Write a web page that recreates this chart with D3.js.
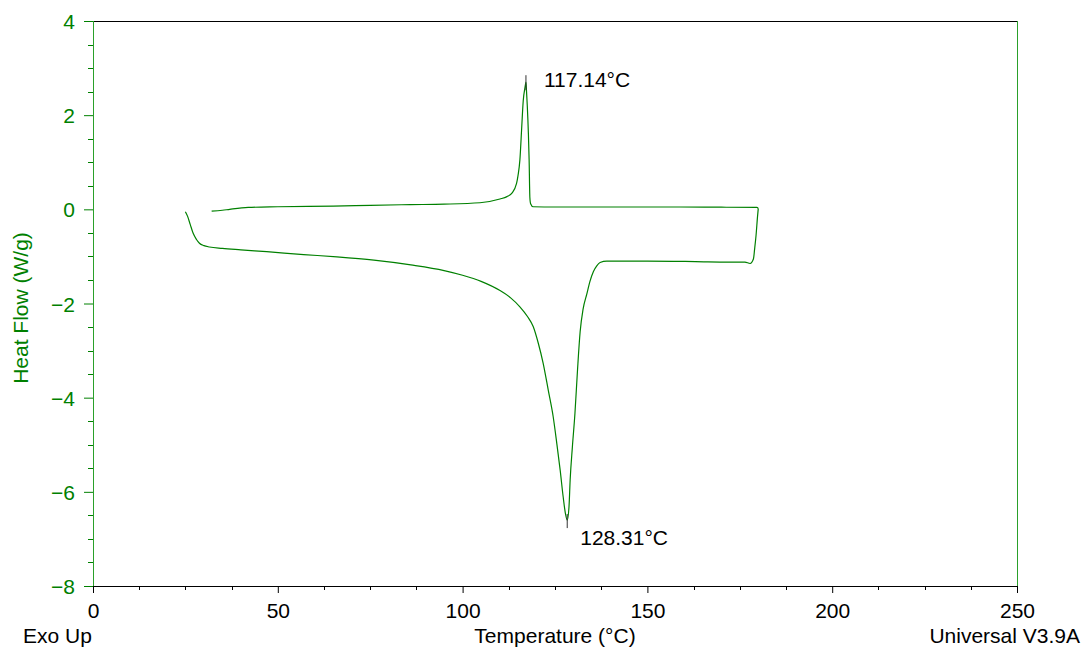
<!DOCTYPE html>
<html>
<head>
<meta charset="utf-8">
<script src="https://cdn.jsdelivr.net/npm/d3@7"></script>
<style>
  body { margin: 0; background: #fff; }
  svg text { font-family: "Liberation Sans", Arial, sans-serif; }
</style>
</head>
<body>
<svg id="chart" width="1083" height="651"></svg>
<script>
// DSC run: heating scan then cooling scan
const heatTemp = [25.0, 25.6, 26.3, 27.1, 28.0, 28.8, 30.0, 31.5, 35, 40, 47, 57, 66, 76, 86, 95, 100, 105, 110, 113,
  115.5, 117.5, 119.1, 120.5, 121.8, 123.2, 124.5, 125.5, 126.4, 127.2, 127.8, 128.31, 128.8, 129.1, 129.7, 130.4,
  131.1, 131.8, 132.6, 133.6, 134.5, 135.4, 136.3, 137.2, 139, 150, 163, 172, 176.4, 177.8, 178.7, 179.0, 179.4, 179.8, 180.0];
const heatFlow = [-0.05, -0.15, -0.32, -0.51, -0.64, -0.72, -0.77, -0.80, -0.83, -0.86, -0.90, -0.96, -1.01, -1.08, -1.18, -1.30, -1.40, -1.53, -1.72, -1.88,
  -2.07, -2.27, -2.49, -2.85, -3.27, -3.85, -4.40, -4.98, -5.54, -6.10, -6.45, -6.60, -6.30, -5.75, -5.05, -4.33,
  -3.40, -2.60, -2.12, -1.80, -1.52, -1.32, -1.20, -1.13, -1.10, -1.10, -1.11, -1.12, -1.12, -1.15, -1.05, -0.85, -0.55, -0.15, 0.02];

const coolTemp = [180.0, 179.6, 170, 158.8, 140, 125, 119.1, 118.4, 118.2, 118.0, 117.8, 117.5, 117.3, 117.14, 116.9, 116.4,
  116.0, 115.5, 115.0, 114.6, 113.3, 112, 110.1, 104.7, 95, 85.8, 75, 65, 50, 42, 37, 35, 32.1];
const coolFlow = [0.02, 0.04, 0.045, 0.05, 0.05, 0.05, 0.055, 0.12, 0.25, 1.05, 1.61, 2.2, 2.5, 2.70, 2.60, 2.30,
  1.75, 1.05, 0.72, 0.55, 0.34, 0.27, 0.22, 0.14, 0.11, 0.10, 0.085, 0.07, 0.055, 0.04, 0.0, -0.02, -0.04];

// peak annotations
const peakTemps = [117.14, 128.31];
const peakFlows = [2.70, -6.60];
const peakLabels = ["117.14°C", "128.31°C"];

const xMajor = [0, 50, 100, 150, 200, 250];
const yMajor = [-8, -6, -4, -2, 0, 2, 4];

const svg = d3.select("#chart");
const plotLeft = 93, plotRight = 1017, plotTop = 21, plotBottom = 586;
const green = "#008000";

const x = d3.scaleLinear().domain([0, 250]).range([plotLeft, plotRight]);
const y = d3.scaleLinear().domain([-8, 4]).range([plotBottom, plotTop]);

// minor ticks every 12.5 C and 0.5 W/g
const xMinor = d3.range(0, 250.01, 12.5).filter(function(d) { return xMajor.indexOf(d) < 0; });
const yMinor = d3.range(-8, 4.01, 0.5).filter(function(d) { return yMajor.indexOf(d) < 0; });

// x axis (black)
const xAxis = svg.append("g").attr("transform", "translate(0," + plotBottom + ")")
  .call(d3.axisBottom(x).tickValues(xMajor).tickSize(7).tickPadding(10).tickFormat(d3.format("d")));
xAxis.select(".domain").remove();
xAxis.selectAll("line").attr("stroke", "#000");
xAxis.selectAll("text").attr("fill", "#000").style("font-size", "21px").attr("dy", "0.71em");

svg.append("g").attr("transform", "translate(0," + plotBottom + ")")
  .selectAll("line").data(xMinor).enter().append("line")
  .attr("x1", function(d) { return Math.round(x(d)) + 0.5; })
  .attr("x2", function(d) { return Math.round(x(d)) + 0.5; })
  .attr("y1", 0).attr("y2", 4).attr("stroke", "#000");

// y axis (green)
const yAxis = svg.append("g").attr("transform", "translate(" + plotLeft + ",0)")
  .call(d3.axisLeft(y).tickValues(yMajor).tickSize(9).tickPadding(9).tickFormat(d3.format("d")));
yAxis.select(".domain").remove();
yAxis.selectAll("line").attr("stroke", green);
yAxis.selectAll("text").attr("fill", green).style("font-size", "21px").attr("dy", "0.36em");

svg.append("g").attr("transform", "translate(" + plotLeft + ",0)")
  .selectAll("line").data(yMinor).enter().append("line")
  .attr("y1", function(d) { return Math.round(y(d)) + 0.5; })
  .attr("y2", function(d) { return Math.round(y(d)) + 0.5; })
  .attr("x1", 0).attr("x2", -5).attr("stroke", green);

// frame: black top/bottom, green sides
svg.append("line").attr("x1", plotLeft).attr("x2", plotRight).attr("y1", plotTop + 0.5).attr("y2", plotTop + 0.5).attr("stroke", "#000");
svg.append("line").attr("x1", plotLeft).attr("x2", plotRight).attr("y1", plotBottom + 0.5).attr("y2", plotBottom + 0.5).attr("stroke", "#000");
svg.append("line").attr("x1", plotLeft + 0.5).attr("x2", plotLeft + 0.5).attr("y1", plotTop).attr("y2", plotBottom).attr("stroke", "#2aa02a");
svg.append("line").attr("x1", plotRight + 0.5).attr("x2", plotRight + 0.5).attr("y1", plotTop).attr("y2", plotBottom).attr("stroke", "#2aa02a");

// curve (temps are monotone within each scan)
const line = d3.line().curve(d3.curveMonotoneX)
  .x(function(d) { return x(d[0]); }).y(function(d) { return y(d[1]); });
const heatPts = heatTemp.map(function(t, i) { return [t, heatFlow[i]]; });
const coolPts = coolTemp.map(function(t, i) { return [t, coolFlow[i]]; });

svg.append("path").datum(heatPts).attr("d", line)
  .attr("fill", "none").attr("stroke", green).attr("stroke-width", 1.2);
svg.append("path").datum(coolPts).attr("d", line)
  .attr("fill", "none").attr("stroke", green).attr("stroke-width", 1.2);

// peak markers + labels
peakTemps.forEach(function(t, i) {
  const up = peakFlows[i] > 0;
  const py = y(peakFlows[i]);
  svg.append("line")
    .attr("x1", x(t)).attr("x2", x(t))
    .attr("y1", up ? py - 7 : py - 6).attr("y2", up ? py + 8 : py + 8)
    .attr("stroke", "#333").attr("stroke-width", 1);
  svg.append("text")
    .attr("x", up ? x(t) + 18 : x(t) + 13)
    .attr("y", up ? py + 5 : py + 25)
    .attr("fill", "#000").style("font-size", "21px")
    .text(peakLabels[i]);
});

// axis titles
svg.append("text").attr("x", (plotLeft + plotRight) / 2).attr("y", 643)
  .attr("text-anchor", "middle").attr("fill", "#000").style("font-size", "21px")
  .text("Temperature (°C)");
svg.append("text").attr("x", 23).attr("y", 643)
  .attr("fill", "#000").style("font-size", "21px").text("Exo Up");
svg.append("text").attr("x", 1080).attr("y", 643)
  .attr("text-anchor", "end").attr("fill", "#000").style("font-size", "21px").text("Universal V3.9A");
svg.append("text")
  .attr("transform", "translate(28," + 308 + ") rotate(-90)")
  .attr("text-anchor", "middle").attr("fill", green).style("font-size", "21px")
  .text("Heat Flow (W/g)");
</script>
</body>
</html>
